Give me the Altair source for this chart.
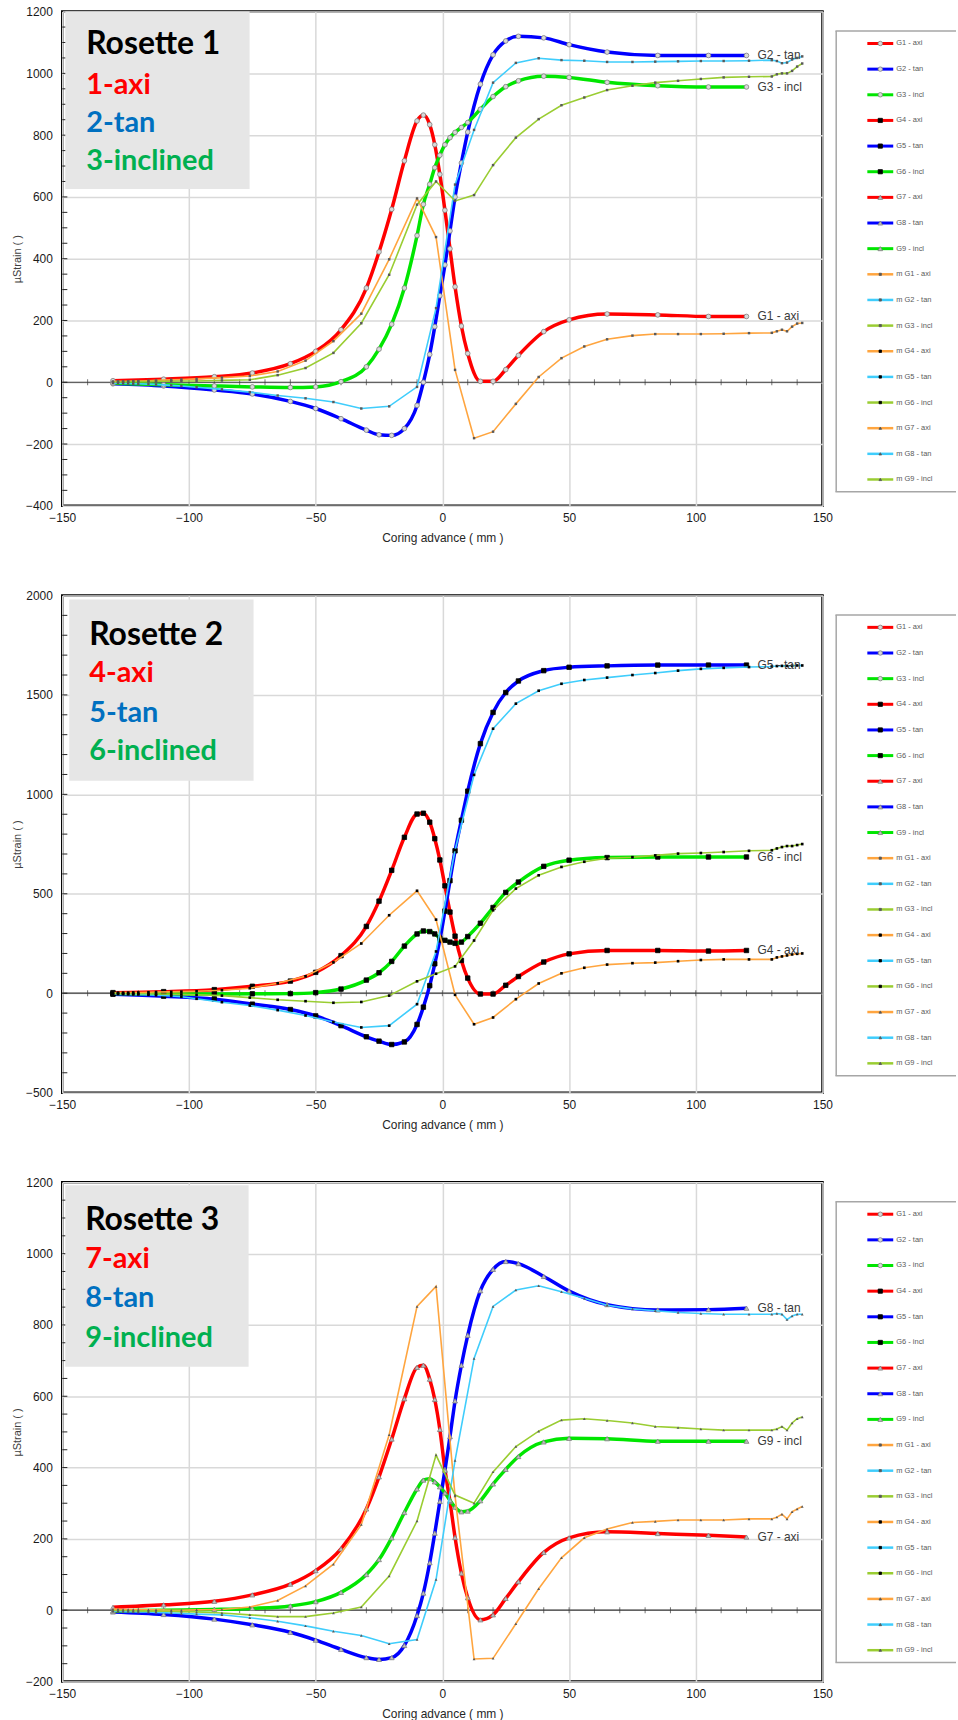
import altair as alt
import pandas as pd

# Coring advance (mm) of the gauge readings and of the model curves
GAUGE_X = [-130, -110, -90, -75, -60, -50, -40, -30, -25, -20, -15, -10, -7.5, -5, -3, -1,
           1, 3, 5, 7.5, 10, 15, 20, 25, 30, 40, 50, 65, 85, 105, 120]
MODEL_X = [-130, -128, -126, -124, -122, -120, -116, -113, -107, -103, -97, -87, -76, -65,
           -54, -43, -32, -21, -10, -2.5, 5, 12.5, 20, 29, 38, 47, 56, 65, 75, 84, 93, 102,
           111, 121, 130, 132, 134, 136, 138, 140, 142]

# Measured micro-strain, gauges G1..G9
G1 = [5, 10, 18, 30, 60, 100, 170, 305, 422, 560, 717, 846, 865, 834, 769, 673,
      557, 432, 309, 182, 93, 3, 3, 41, 87, 164, 202, 221, 218, 213, 213]
G2 = [-5, -12, -25, -38, -62, -85, -118, -155, -170, -172, -150, -75, 0, 90, 180, 280,
      380, 490, 600, 710, 810, 965, 1060, 1105, 1120, 1115, 1093, 1069, 1058, 1058, 1058]
G3 = [-3, -8, -12, -15, -17, -15, 2, 50, 107, 188, 305, 475, 576, 641, 695, 735,
      769, 792, 809, 825, 841, 884, 925, 957, 976, 991, 987, 971, 960, 956, 956]
G4 = [3, 8, 18, 35, 61, 105, 189, 336, 463, 618, 784, 901, 905, 860, 777, 670,
      540, 408, 287, 165, 76, -4, -4, 40, 84, 157, 198, 215, 215, 212, 215]
G5 = [-5, -15, -30, -55, -82, -114, -163, -219, -241, -258, -245, -157, -70, 38, 148, 268,
      413, 566, 716, 870, 1016, 1255, 1412, 1512, 1570, 1622, 1639, 1646, 1650, 1650, 1650]
G6 = [-2, -3, -4, -3, -2, 3, 21, 66, 103, 160, 237, 298, 313, 310, 298, 277,
      266, 257, 251, 257, 285, 352, 431, 507, 559, 638, 669, 682, 685, 685, 685]
G7 = [8, 15, 25, 43, 73, 111, 172, 284, 374, 480, 593, 681, 687, 648, 591, 507,
      395, 305, 204, 104, 35, -27, -13, 33, 80, 162, 203, 220, 215, 210, 205]
G8 = [-5, -12, -25, -41, -62, -84, -110, -133, -138, -133, -99, -15, 48, 133, 216, 305,
      392, 487, 587, 687, 771, 896, 956, 978, 972, 936, 895, 857, 842, 843, 847]
G9 = [-2, 0, 2, 5, 12, 24, 50, 100, 142, 203, 274, 340, 365, 369, 360, 346,
      329, 308, 289, 276, 278, 307, 354, 395, 431, 472, 482, 481, 474, 474, 474]

# Model micro-strain, mG1..mG9
MG1 = [2, 3, 3, 3, 4, 4, 5, 6, 8, 9, 11, 15, 20, 35, 70, 133, 222, 398, 595, 470, 40,
       -181, -160, -70, 17, 78, 116, 139, 151, 156, 156, 156, 157, 159, 160, 165, 170,
       165, 180, 190, 192]
MG2 = [-3, -3, -4, -4, -5, -5, -6, -7, -10, -12, -16, -23, -32, -43, -52, -64, -85, -78,
       -15, 240, 640, 817, 970, 1034, 1049, 1043, 1041, 1037, 1037, 1038, 1039, 1040, 1040,
       1041, 1043, 1040, 1033, 1035, 1045, 1050, 1055]
MG3 = [1, 1, 1, 2, 2, 2, 2, 3, 3, 4, 4, 6, 8, 23, 46, 95, 191, 348, 575, 650, 587, 606,
       703, 792, 852, 897, 922, 946, 960, 970, 976, 982, 987, 989, 990, 997, 1000, 1000,
       1008, 1022, 1032]
MG4 = [2, 3, 3, 3, 4, 4, 5, 6, 7, 8, 10, 15, 25, 50, 85, 155, 250, 392, 515, 370, -8,
       -156, -122, -30, 49, 100, 128, 144, 151, 154, 161, 167, 170, 170, 170, 180, 185,
       190, 195, 198, 200]
MG5 = [-3, -4, -4, -5, -6, -6, -8, -10, -14, -18, -28, -45, -62, -85, -112, -145, -172,
       -163, -55, 210, 720, 1098, 1330, 1456, 1521, 1556, 1575, 1587, 1600, 1610, 1622,
       1631, 1636, 1640, 1643, 1645, 1646, 1646, 1647, 1648, 1648]
MG6 = [-1, -1, -2, -2, -2, -3, -3, -4, -5, -6, -8, -12, -22, -33, -40, -48, -44, -12, 60,
       98, 135, 265, 417, 526, 593, 635, 661, 679, 684, 693, 702, 705, 710, 716, 719, 728,
       735, 740, 740, 745, 750]
MG7 = [3, 3, 2, 2, 2, 2, 1, 1, 0, 0, 1, 2, 9, 27, 68, 129, 240, 492, 852, 908, 320,
       -137, -135, -38, 60, 147, 203, 228, 246, 249, 253, 253, 253, 256, 256, 261, 269,
       256, 276, 284, 291]
MG8 = [-3, -3, -4, -4, -4, -5, -5, -6, -8, -9, -11, -13, -21, -31, -44, -59, -71, -94,
       -82, 86, 420, 706, 852, 898, 910, 893, 875, 855, 845, 840, 835, 832, 830, 830, 830,
       832, 830, 815, 825, 830, 830]
MG9 = [-1, -1, -1, -1, -2, -2, -2, -3, -3, -4, -5, -8, -13, -18, -18, -8, 9, 96, 250,
       435, 323, 300, 388, 459, 502, 533, 537, 532, 525, 515, 512, 508, 505, 505, 505, 508,
       515, 505, 525, 537, 542]

LEGEND_NAMES = ["G1 - axi", "G2 - tan", "G3 - incl", "G4 - axi", "G5 - tan", "G6 - incl",
                "G7 - axi", "G8 - tan", "G9 - incl",
                "m G1 - axi", "m G2 - tan", "m G3 - incl", "m G4 - axi", "m G5 - tan",
                "m G6 - incl", "m G7 - axi", "m G8 - tan", "m G9 - incl"]

X_TICKS = [-150, -100, -50, 0, 50, 100, 150]
ZERO_TICKS = list(range(-140, 141, 10))

AXI, TAN, INCL = "#ff0000", "#0000ff", "#00e600"
M_AXI, M_TAN, M_INCL = "#ffa53f", "#3fcdfc", "#9acd32"
LEGEND_COLORS = [AXI, TAN, INCL] * 3 + [M_AXI, M_TAN, M_INCL] * 3

AXIS_FONT = "Liberation Sans"
BOX_FONT = "Lato"
PLOT_W = 763
LEG_W = 121
ROW_STEP = 25.74
ROW_FIRST = 32.0

PANELS = [
    dict(title="Rosette 1", tags=["1-axi", "2-tan", "3-inclined"],
         gauges=[("G1", G1), ("G2", G2), ("G3", G3)],
         models=[("mG1", MG1), ("mG2", MG2), ("mG3", MG3)],
         ends=["G1 - axi", "G2 - tan", "G3 - incl"],
         domain=(-400, 1200), step=200, minor=50, height=496,
         gshape="circle", gfill="#d9d9d9", gstroke="#7f7f7f", gsize=22,
         mshape="square", mcolor="#595959", msize=6,
         box=(3, 188, 0, 178), tx=24, ty=[42.6, 82.6, 121, 159]),
    dict(title="Rosette 2", tags=["4-axi", "5-tan", "6-inclined"],
         gauges=[("G4", G4), ("G5", G5), ("G6", G6)],
         models=[("mG4", MG4), ("mG5", MG5), ("mG6", MG6)],
         ends=["G4 - axi", "G5 - tan", "G6 - incl"],
         domain=(-500, 2000), step=500, minor=100, height=499,
         gshape="square", gfill="#000000", gstroke="#000000", gsize=20,
         mshape="square", mcolor="#000000", msize=7,
         box=(7, 192, 4, 186), tx=27, ty=[49.5, 87, 127, 165]),
    dict(title="Rosette 3", tags=["7-axi", "8-tan", "9-inclined"],
         gauges=[("G7", G7), ("G8", G8), ("G9", G9)],
         models=[("mG7", MG7), ("mG8", MG8), ("mG9", MG9)],
         ends=["G7 - axi", "G8 - tan", "G9 - incl"],
         domain=(-200, 1200), step=200, minor=50, height=501,
         gshape="triangle-up", gfill="#bfbfbf", gstroke="#7f7f7f", gsize=24,
         mshape="triangle-up", mcolor="#595959", msize=8,
         box=(3, 187, 3, 185), tx=23, ty=[47.6, 86, 125, 165]),
]


def long_frame(xs, series):
    return pd.DataFrame([{"x": x, "v": v, "s": name}
                         for name, vals in series for x, v in zip(xs, vals)])


def panel(cfg):
    ymin, ymax = cfg["domain"]
    xs = alt.Scale(domain=[-150, 150], nice=False, zero=False)
    ys = alt.Scale(domain=[ymin, ymax], nice=False, zero=False)
    xa = alt.Axis(values=X_TICKS, title="Coring advance ( mm )", grid=True,
                  gridColor="#d9d9d9", gridWidth=1.5, ticks=False, domain=False,
                  labelFlush=False, labelFont=AXIS_FONT, labelFontSize=12,
                  labelColor="#1a1a1a", labelPadding=7, titleFont=AXIS_FONT,
                  titleFontSize=12, titleFontWeight="normal", titleColor="#262626",
                  titlePadding=9)
    ya = alt.Axis(values=list(range(ymin, ymax + 1, cfg["step"])), title="\u00b5Strain ( )",
                  grid=True, gridColor="#d9d9d9", gridWidth=1.5, ticks=False, domain=False,
                  format="d", labelFont=AXIS_FONT, labelFontSize=12, labelColor="#1a1a1a",
                  labelPadding=10, titleFont=AXIS_FONT, titleFontSize=11,
                  titleFontWeight="normal", titleColor="#404040", titlePadding=3)

    def X(f="x"):
        return alt.X(f"{f}:Q", scale=xs, axis=xa)

    def Y(f="v"):
        return alt.Y(f"{f}:Q", scale=ys, axis=ya)

    names = [n for n, _ in cfg["gauges"]] + [n for n, _ in cfg["models"]]
    color = alt.Color("s:N", scale=alt.Scale(domain=names,
                                             range=[AXI, TAN, INCL, M_AXI, M_TAN, M_INCL]),
                      legend=None)

    gdf = long_frame(GAUGE_X, cfg["gauges"])
    mdf = long_frame(MODEL_X, cfg["models"])

    zero = alt.Chart(pd.DataFrame({"v": [0]})).mark_rule(
        color="#3a3a3a", strokeWidth=1.2).encode(y=Y())
    zero_ticks = alt.Chart(pd.DataFrame({"x": ZERO_TICKS, "v": 0})).mark_tick(
        orient="vertical", size=6, thickness=1, color="#3a3a3a").encode(x=X(), y=Y())
    minor_vals = [v for v in range(ymin + cfg["minor"], ymax, cfg["minor"])]
    minor = alt.Chart(pd.DataFrame({"x": -150, "x2": -148, "v": minor_vals})).mark_rule(
        color="#222222", strokeWidth=1).encode(x=X(), x2="x2:Q", y=Y())

    glines = alt.Chart(gdf).mark_line(interpolate="monotone", strokeWidth=3.5).encode(
        x=X(), y=Y(), color=color)
    gpoints = alt.Chart(gdf).mark_point(
        shape=cfg["gshape"], filled=True, fill=cfg["gfill"], stroke=cfg["gstroke"],
        strokeWidth=0.8, size=cfg["gsize"], opacity=1).encode(x=X(), y=Y())
    mlines = alt.Chart(mdf).mark_line(strokeWidth=1.6).encode(x=X(), y=Y(), color=color)
    mpoints = alt.Chart(mdf).mark_point(
        shape=cfg["mshape"], filled=True, color=cfg["mcolor"], size=cfg["msize"],
        opacity=1).encode(x=X(), y=Y())

    end_df = pd.DataFrame({"x": [GAUGE_X[-1]] * 3,
                           "v": [vals[-1] for _, vals in cfg["gauges"]],
                           "t": cfg["ends"]})
    ends = alt.Chart(end_df).mark_text(
        align="left", baseline="middle", dx=11, font=AXIS_FONT, fontSize=12,
        color="#3a3a3a").encode(x=X(), y=Y(), text="t:N")

    bx0, bx1, by0, by1 = cfg["box"]
    box = alt.Chart(pd.DataFrame({"k": [0]})).mark_rect(fill="#e6e6e6").encode(
        x=alt.value(bx0), x2=alt.value(bx1), y=alt.value(by0), y2=alt.value(by1))

    lines = [(cfg["title"], "#000000", 32)] + list(zip(cfg["tags"],
                                                        ["#ff0000", "#0070c0", "#00b050"],
                                                        [29, 29, 29]))
    texts = []
    for (txt, col, size), ybase in zip(lines, cfg["ty"]):
        texts.append(alt.Chart(pd.DataFrame({"t": [txt]})).mark_text(
            align="left", baseline="alphabetic", font=BOX_FONT, fontWeight="bold",
            fontSize=size, color=col).encode(
            x=alt.value(cfg["tx"]), y=alt.value(ybase), text="t:N"))

    return alt.layer(zero, zero_ticks, minor, glines, gpoints, mlines, mpoints, ends,
                     box, *texts).properties(
        width=PLOT_W, height=cfg["height"],
        view=alt.ViewBackground(stroke="#000000", strokeWidth=2.5))


def legend(h):
    lo = -ROW_FIRST / ROW_STEP
    hi = (h - ROW_FIRST) / ROW_STEP
    ys = alt.Scale(domain=[lo, hi], reverse=True, nice=False, zero=False)
    Yl = alt.Y("i:Q", scale=ys, axis=None)
    ldf = pd.DataFrame({"i": list(range(len(LEGEND_NAMES))), "name": LEGEND_NAMES,
                        "col": LEGEND_COLORS})
    col = alt.Color("col:N", scale=None, legend=None)

    # frame: white panel, open on the right where the page ends
    fdf = pd.DataFrame({"top": [(19.5 - ROW_FIRST) / ROW_STEP],
                        "bot": [(482.0 - ROW_FIRST) / ROW_STEP]})
    fbase = alt.Chart(fdf)
    fill = fbase.mark_rect(fill="white").encode(
        x=alt.value(0), x2=alt.value(LEG_W), y=alt.Y("top:Q", scale=ys, axis=None),
        y2="bot:Q")
    edge = dict(color="#a6a6a6", strokeWidth=1.5)
    top = fbase.mark_rule(**edge).encode(
        x=alt.value(0), x2=alt.value(LEG_W), y=alt.Y("top:Q", scale=ys, axis=None))
    bot = fbase.mark_rule(**edge).encode(
        x=alt.value(0), x2=alt.value(LEG_W), y=alt.Y("bot:Q", scale=ys, axis=None))
    left = fbase.mark_rule(**edge).encode(
        x=alt.value(0.75), y=alt.Y("top:Q", scale=ys, axis=None), y2="bot:Q")

    base = alt.Chart(ldf)
    g_lines = base.transform_filter("datum.i < 9").mark_rule(strokeWidth=3).encode(
        x=alt.value(32), x2=alt.value(58), y=Yl, color=col)
    m_lines = base.transform_filter("datum.i >= 9").mark_rule(strokeWidth=2.5).encode(
        x=alt.value(32), x2=alt.value(58), y=Yl, color=col)

    marks = []
    groups = [("datum.i < 3", "circle", "#d9d9d9", "#7f7f7f", 20),
              ("datum.i >= 3 && datum.i < 6", "square", "#000000", "#000000", 18),
              ("datum.i >= 6 && datum.i < 9", "triangle-up", "#bfbfbf", "#7f7f7f", 22),
              ("datum.i >= 9 && datum.i < 12", "square", "#595959", "#595959", 5),
              ("datum.i >= 12 && datum.i < 15", "square", "#000000", "#000000", 6),
              ("datum.i >= 15", "triangle-up", "#595959", "#595959", 7)]
    for cond, shape, mfill, stroke, size in groups:
        marks.append(base.transform_filter(cond).mark_point(
            shape=shape, filled=True, fill=mfill, stroke=stroke, strokeWidth=0.8,
            size=size, opacity=1).encode(x=alt.value(45), y=Yl))

    labels = base.mark_text(align="left", baseline="middle", font=AXIS_FONT, fontSize=7.5,
                            color="#595959").encode(x=alt.value(61), y=Yl, text="name:N")

    return alt.layer(fill, top, bot, left, g_lines, m_lines, *marks, labels).properties(
        width=LEG_W, height=h, view=alt.ViewBackground(stroke="transparent"))


cells = []
for cfg in PANELS:
    cells += [panel(cfg), legend(cfg["height"])]

chart = alt.concat(*cells, columns=2, bounds="flush",
                   spacing={"row": 90, "column": 13}).properties(
    padding={"left": 9.5, "top": 0.5, "right": 0, "bottom": 0})

chart.save("out.html", embed_options={"renderer": "svg", "actions": False})
